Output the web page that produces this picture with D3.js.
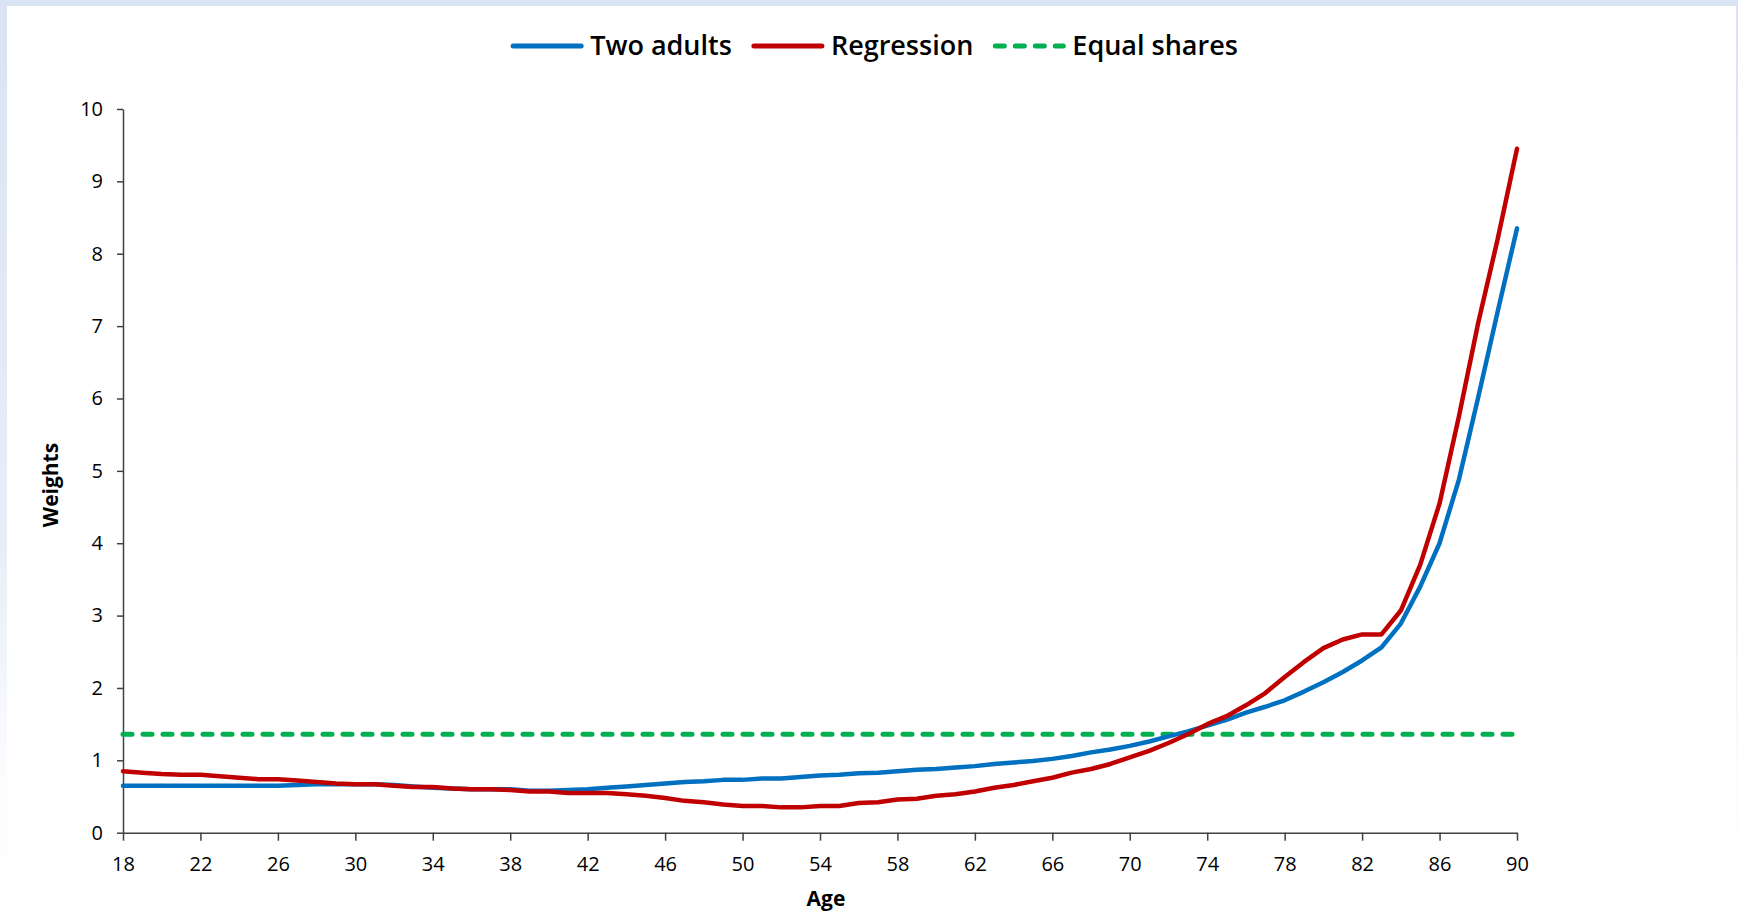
<!DOCTYPE html>
<html>
<head>
<meta charset="utf-8">
<script src="https://cdn.jsdelivr.net/npm/d3@7"></script>
<style>
  html, body { margin: 0; padding: 0; background: #ffffff; }
  svg { display: block; }
</style>
</head>
<body>
<svg id="chart" width="1738" height="913"></svg>
<script>
// ---- data ----
const ages = d3.range(18, 91); // 18..90
const twoAdults = [
  0.65, 0.65, 0.65, 0.65, 0.65, 0.65, 0.65, 0.65, 0.65, // 18-26
  0.66, 0.67, 0.67, 0.67, 0.67, 0.66, 0.64, 0.62, 0.61, // 27-35
  0.60, 0.60, 0.60, 0.58, 0.58, 0.59, 0.60, 0.62, 0.64, // 36-44
  0.66, 0.68, 0.70, 0.71, 0.73, 0.73, 0.75, 0.75, 0.77, // 45-53
  0.79, 0.80, 0.82, 0.83, 0.85, 0.87, 0.88, 0.90, 0.92, // 54-62
  0.95, 0.97, 0.99, 1.02, 1.06, 1.11, 1.15, 1.20, 1.26, // 63-71
  1.33, 1.40, 1.48, 1.56, 1.66, 1.74, 1.83, 1.95, 2.08, // 72-80
  2.22, 2.38, 2.56, 2.89, 3.40, 4.00, 4.88, 6.02, 7.20, // 81-89
  8.35                                                  // 90
];
const regression = [
  0.85, 0.83, 0.81, 0.80, 0.80, 0.78, 0.76, 0.74, 0.74, // 18-26
  0.72, 0.70, 0.68, 0.67, 0.67, 0.65, 0.63, 0.63, 0.61, // 27-35
  0.60, 0.60, 0.59, 0.57, 0.57, 0.55, 0.55, 0.55, 0.53, // 36-44
  0.51, 0.48, 0.44, 0.42, 0.39, 0.37, 0.37, 0.35, 0.35, // 45-53
  0.37, 0.37, 0.41, 0.42, 0.46, 0.47, 0.51, 0.53, 0.57, // 54-62
  0.62, 0.66, 0.71, 0.76, 0.83, 0.88, 0.95, 1.04, 1.13, // 63-71
  1.24, 1.36, 1.50, 1.61, 1.76, 1.93, 2.15, 2.36, 2.55, // 72-80
  2.67, 2.74, 2.74, 3.07, 3.70, 4.55, 5.75, 7.05, 8.20, // 81-89
  9.45                                                  // 90
];
const equalShare = 1.36;
const equalShares = ages.map(() => equalShare);
const xTicks = d3.range(18, 91, 4);
const yTicks = d3.range(0, 11, 1);
const seriesNames = ["Two adults", "Regression", "Equal shares"];
const seriesColors = ["#0070C0", "#C00000", "#00B050"];

// ---- drawing ----
const FONT = "'Open Sans', 'Noto Sans', 'DejaVu Sans', sans-serif";
const svg = d3.select("#chart");

// backdrop
const defs = svg.append("defs");
const grad = defs.append("linearGradient").attr("id", "bg").attr("x1", 0).attr("y1", 0).attr("x2", 0).attr("y2", 1);
grad.append("stop").attr("offset", "0%").attr("stop-color", "#d9e3f2");
grad.append("stop").attr("offset", "60%").attr("stop-color", "#e8eef8");
grad.append("stop").attr("offset", "85%").attr("stop-color", "#fbfcfe");
grad.append("stop").attr("offset", "100%").attr("stop-color", "#ffffff");
svg.append("rect").attr("x", 0).attr("y", 0).attr("width", 1738).attr("height", 913).attr("fill", "url(#bg)");
svg.append("rect").attr("x", 7).attr("y", 6).attr("width", 1729).attr("height", 907).attr("fill", "#ffffff");

const x = d3.scaleLinear().domain([18, 90]).range([123, 1517]);
const y = d3.scaleLinear().domain([0, 10]).range([832.7, 109]);

// axes
const axisColor = "#404040";
const gx = svg.append("g").attr("transform", `translate(0,${y(0)})`)
  .call(d3.axisBottom(x).tickValues(xTicks).tickSize(8).tickSizeOuter(0).tickFormat(d3.format("d")));
gx.selectAll("text").attr("y", 38).attr("dy", 0)
  .attr("font-family", FONT).attr("font-size", 20).attr("fill", "#000");
const gy = svg.append("g").attr("transform", `translate(${x(18)},0)`)
  .call(d3.axisLeft(y).tickValues(yTicks).tickSize(6).tickSizeOuter(0).tickFormat(d3.format("d")));
gy.selectAll("text").attr("x", -20)
  .attr("font-family", FONT).attr("font-size", 20).attr("fill", "#000");
[gx, gy].forEach(g => {
  g.select(".domain").attr("stroke", axisColor).attr("stroke-width", 1.5);
  g.selectAll(".tick line").attr("stroke", axisColor).attr("stroke-width", 1.5);
});

// axis titles
svg.append("text").attr("x", 826).attr("y", 906).attr("text-anchor", "middle")
  .attr("font-family", FONT).attr("font-weight", "bold").attr("font-size", 21).attr("fill", "#000").text("Age");
svg.append("text").attr("transform", "translate(58,485) rotate(-90)").attr("text-anchor", "middle")
  .attr("font-family", FONT).attr("font-weight", "bold").attr("font-size", 21).attr("fill", "#000").text("Weights");

// lines
const line = d3.line().x((d, i) => x(ages[i])).y(d => y(d));
const allSeries = [twoAdults, regression, equalShares];
// draw equal shares first? In reference, lines drawn over dashed line
svg.append("path").datum(equalShares).attr("d", line).attr("fill", "none")
  .attr("stroke", seriesColors[2]).attr("stroke-width", 5).attr("stroke-dasharray", "9,11").attr("stroke-linecap", "round");
svg.append("path").datum(twoAdults).attr("d", line).attr("fill", "none")
  .attr("stroke", seriesColors[0]).attr("stroke-width", 4.5).attr("stroke-linejoin", "round").attr("stroke-linecap", "round");
svg.append("path").datum(regression).attr("d", line).attr("fill", "none")
  .attr("stroke", seriesColors[1]).attr("stroke-width", 4.5).attr("stroke-linejoin", "round").attr("stroke-linecap", "round");

// legend
const legend = svg.append("g");
let cursor = 0;
seriesNames.forEach((name, i) => {
  const g = legend.append("g").attr("transform", `translate(${cursor},0)`);
  const ln = g.append("line").attr("x1", 2).attr("x2", 70).attr("y1", 0).attr("y2", 0)
    .attr("stroke", seriesColors[i]).attr("stroke-width", 5).attr("stroke-linecap", "round");
  if (i === 2) ln.attr("stroke-dasharray", "9,11");
  const t = g.append("text").attr("x", 79).attr("y", 9).attr("font-family", FONT)
    .attr("font-size", 27).attr("font-weight", 600).attr("fill", "#000").text(name);
  cursor += 79 + t.node().getComputedTextLength() + 20;
});
const legendWidth = cursor - 20;
legend.attr("transform", `translate(${874.5 - legendWidth / 2},46)`);
</script>
</body>
</html>
